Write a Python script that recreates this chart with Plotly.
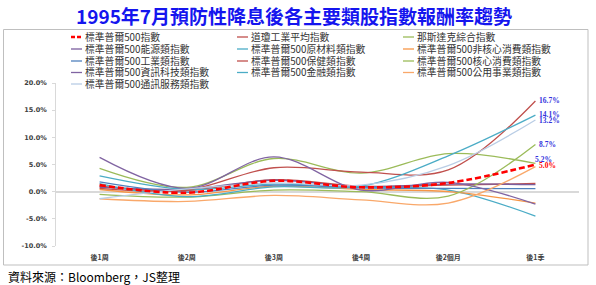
import plotly.graph_objects as go

# ---------------- data ----------------
categories = ["後1周", "後2周", "後3周", "後4周", "後2個月", "後1季"]

series_names = [
    "標準普爾500指數", "道瓊工業平均指數", "那斯達克綜合指數",
    "標準普爾500能源類指數", "標準普爾500原材料類指數", "標準普爾500非核心消費類指數",
    "標準普爾500工業類指數", "標準普爾500保健類指數", "標準普爾500核心消費類指數",
    "標準普爾500資訊科技類指數", "標準普爾500金融類指數", "標準普爾500公用事業類指數",
    "標準普爾500通訊服務類指數",
]

sp500 = [1.2, -0.2, 2.0, 0.8, 1.6, 5.0]
dow = [1.0, 0.2, 2.2, 1.0, 1.2, 1.5]
nasdaq = [4.3, 0.8, 6.1, 3.4, 7.0, 5.2]
energy = [0.8, 0.5, 2.1, 0.9, 1.4, 1.3]
materials = [2.9, 0.4, 1.4, 0.8, 0.3, -4.5]
discretionary = [0.4, -0.6, 1.0, 0.4, 0.0, -2.1]
industrials = [1.8, -0.1, 1.2, 0.7, 0.6, 0.55]
healthcare = [0.6, 0.3, 4.4, 3.6, 4.0, 16.7]
staples = [-0.5, -1.0, 0.3, 0.0, -0.8, 8.7]
tech = [6.3, 0.6, 6.4, 0.3, 1.7, -2.3]
financials = [1.5, -0.9, 0.9, 1.0, 6.6, 14.1]
utilities = [-1.3, -1.8, -0.7, -1.5, -2.1, 4.6]
telecom = [-1.3, 0.5, 1.6, 1.2, 4.8, 13.2]

series_values = [sp500, dow, nasdaq, energy, materials, discretionary, industrials,
                 healthcare, staples, tech, financials, utilities, telecom]

colors = ["#FF0000", "#C0504D", "#9BBB59", "#7B5E9E", "#4BACC6", "#F79646",
          "#4F81BD", "#C0504D", "#9BBB59", "#8064A2", "#4BACC6", "#F9A86A", "#B9CDE5"]

# end-point labels: (series index, text, colour, xshift, yshift)
end_labels = [
    (7, "16.7%", "#3333DD", 2, 0),
    (10, "14.1%", "#3333DD", 2, 1),
    (12, "13.2%", "#3333DD", 2, -1),
    (8, "8.7%", "#3333DD", 2, 0),
    (2, "5.2%", "#3333DD", -2, 4),
    (0, "5.0%", "#FF0000", 2, -1),
]

ytick_vals = [-10, -5, 0, 5, 10, 15, 20]
ytick_text = ["-10.0%", "-5.0%", "0.0%", "5.0%", "10.0%", "15.0%", "20.0%"]

title_text = "1995年7月預防性降息後各主要類股指數報酬率趨勢"
source_text = "資料來源：Bloomberg，JS整理"

# ---------------- layout geometry (pixels) ----------------
WIDTH, HEIGHT = 596, 285
L, R, T, B = 56, 579, 83, 246
PW, PH = R - L, B - T


def px(x):
    return (x - L) / PW


def py(y):
    return (B - y) / PH


CJK = "Noto Sans CJK TC"

fig = go.Figure()
for i, (name, vals) in enumerate(zip(series_names, series_values)):
    if i == 0:
        line = dict(color=colors[i], width=2.6, dash="6px,3px", shape="spline", smoothing=1.0)
    else:
        line = dict(color=colors[i], width=1.3, shape="spline", smoothing=1.0)
    fig.add_trace(go.Scatter(x=categories, y=vals, mode="lines", name=name,
                             line=line, showlegend=False, hoverinfo="skip"))
# draw S&P on top
fig.data = fig.data[1:] + fig.data[:1]

annotations = []
shapes = []

# end labels
for idx, txt, col, xs, ys in end_labels:
    annotations.append(dict(x=categories[-1], y=series_values[idx][-1], xref="x", yref="y",
                            text="<b>%s</b>" % txt, showarrow=False, xanchor="left",
                            yanchor="middle", xshift=xs, yshift=ys,
                            font=dict(family="Liberation Serif", size=7.5, color=col)))

# manual legend (3 columns)
col_sym_x = [71, 237, 403]
row_y = [37, 49, 61, 72.5, 84]
for i, name in enumerate(series_names):
    c = i % 3
    r = i // 3
    x0 = col_sym_x[c]
    yy = row_y[r]
    shapes.append(dict(type="line", xref="paper", yref="paper",
                       x0=px(x0), x1=px(x0 + 11), y0=py(yy), y1=py(yy),
                       line=dict(color=colors[i], width=2.6 if i == 0 else 1.3,
                                 dash="4px,2px" if i == 0 else "solid")))
    annotations.append(dict(x=px(x0 + 12), y=py(yy), xref="paper", yref="paper",
                            text=name, showarrow=False, xanchor="left", yanchor="middle",
                            font=dict(family=CJK, size=9.8, color="#333333")))

# title
annotations.append(dict(x=px(294), y=py(15), xref="paper", yref="paper",
                        text="<b>%s</b>" % title_text, showarrow=False,
                        xanchor="center", yanchor="middle",
                        font=dict(family=CJK, size=19, color="#1515EE")))
# source
annotations.append(dict(x=px(6), y=py(276), xref="paper", yref="paper",
                        text=source_text, showarrow=False,
                        xanchor="left", yanchor="middle",
                        font=dict(family=CJK, size=12, color="#000000")))

# chart border
shapes.append(dict(type="rect", xref="paper", yref="paper",
                   x0=px(3.5), x1=px(588), y0=py(265), y1=py(29.5),
                   line=dict(color="#BFBFBF", width=1), layer="below"))

fig.update_layout(
    width=WIDTH, height=HEIGHT,
    margin=dict(l=L, r=WIDTH - R, t=T, b=HEIGHT - B, pad=0),
    paper_bgcolor="white", plot_bgcolor="white",
    showlegend=False,
    annotations=annotations, shapes=shapes,
    xaxis=dict(type="category", categoryorder="array", categoryarray=categories,
               range=[-0.5, 5.5], showline=False, showgrid=False, zeroline=False,
               ticks="", ticklabelstandoff=6,
               tickfont=dict(family=CJK, size=7, color="#404040"),
               fixedrange=True),
    yaxis=dict(range=[-10, 20], tickvals=ytick_vals, ticktext=ytick_text,
               showline=True, linecolor="#D9D9D9", linewidth=1,
               ticks="outside", ticklen=3, tickcolor="#D9D9D9",
               showgrid=False, zeroline=True, zerolinecolor="#D9D9D9", zerolinewidth=2,
               tickfont=dict(family="DejaVu Sans", size=6.5, color="#404040"),
               ticklabelstandoff=4, fixedrange=True),
)

# bold tick labels via ticktext
fig.update_yaxes(ticktext=["<b>%s</b>" % t for t in ytick_text])
fig.update_xaxes(tickvals=categories, ticktext=["<b>%s</b>" % c for c in categories])

fig.write_html("out.html")
